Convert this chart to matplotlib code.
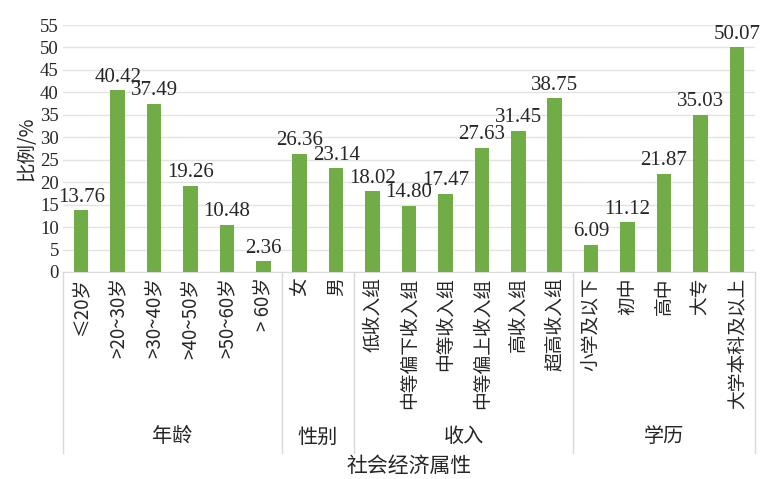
import matplotlib
matplotlib.use("Agg")
import matplotlib.pyplot as plt
import matplotlib.transforms as mtransforms

categories = ["≤20岁", ">20~30岁", ">30~40岁", ">40~50岁", ">50~60岁", "> 60岁",
              "女", "男",
              "低收入组", "中等偏下收入组", "中等收入组", "中等偏上收入组", "高收入组", "超高收入组",
              "小学及以下", "初中", "高中", "大专", "大学本科及以上"]
values = [13.76, 40.42, 37.49, 19.26, 10.48, 2.36,
          26.36, 23.14,
          18.02, 14.80, 17.47, 27.63, 31.45, 38.75,
          6.09, 11.12, 21.87, 35.03, 50.07]
value_labels = ["13.76", "40.42", "37.49", "19.26", "10.48", "2.36",
                "26.36", "23.14",
                "18.02", "14.80", "17.47", "27.63", "31.45", "38.75",
                "6.09", "11.12", "21.87", "35.03", "50.07"]
groups = ["年龄", "性别", "收入", "学历"]
group_sizes = [6, 2, 6, 5]
yticks = [0, 5, 10, 15, 20, 25, 30, 35, 40, 45, 50, 55]

cjk = ["Noto Sans CJK SC", "DejaVu Sans"]
serif = ["Liberation Serif", "DejaVu Serif"]
txt = "#262626"

fig = plt.figure(figsize=(7.69, 4.79), dpi=100)
ax = fig.add_axes([63/769, 1-272/479, (755-63)/769, 247/479])

x = list(range(len(categories)))
ax.bar(x, values, width=0.4, color="#70AD47", zorder=3)
for xi, v, lab in zip(x, values, value_labels):
    ax.annotate(lab, (xi, v), xytext=(0, 2.5), textcoords="offset points",
                ha="center", va="bottom", fontsize=15, family=serif, color=txt)

ax.set_xlim(-0.5, len(categories) - 0.5)
ax.set_ylim(0, 55)
ax.set_yticks(yticks)
ax.set_yticklabels([str(t) for t in yticks], family=serif, fontsize=13.5, color=txt)
ax.tick_params(axis="y", length=0, pad=3)
ax.set_xticks([])
ax.grid(axis="y", color="#e3e3e3", linewidth=1, zorder=0)
for s in ["top", "right", "left"]:
    ax.spines[s].set_visible(False)
ax.spines["bottom"].set_color("#d9d9d9")

trans = mtransforms.blended_transform_factory(ax.transData, ax.transAxes)
for xi, lab in zip(x, categories):
    ax.text(xi, -0.022, lab, transform=trans, rotation=90, ha="center", va="top",
            fontsize=13.5, family=cjk, color=txt, clip_on=False)

start = 0
bounds = [-0.5]
for g, n in zip(groups, group_sizes):
    center = start + (n - 1) / 2
    ax.text(center, -0.668, g, transform=trans, ha="center", va="center",
            fontsize=14.5, family=cjk, color=txt, clip_on=False)
    start += n
    bounds.append(start - 0.5)
for b in bounds:
    ax.plot([b, b], [0, -0.733], transform=trans, color="#d9d9d9", linewidth=1, clip_on=False)

ax.text(0.5, -0.785, "社会经济属性", transform=ax.transAxes, ha="center", va="center",
        fontsize=15, family=cjk, color=txt)
ax.set_ylabel("比例/%", family=cjk, fontsize=14, color=txt, labelpad=2)

fig.savefig("out.png", dpi=100)
